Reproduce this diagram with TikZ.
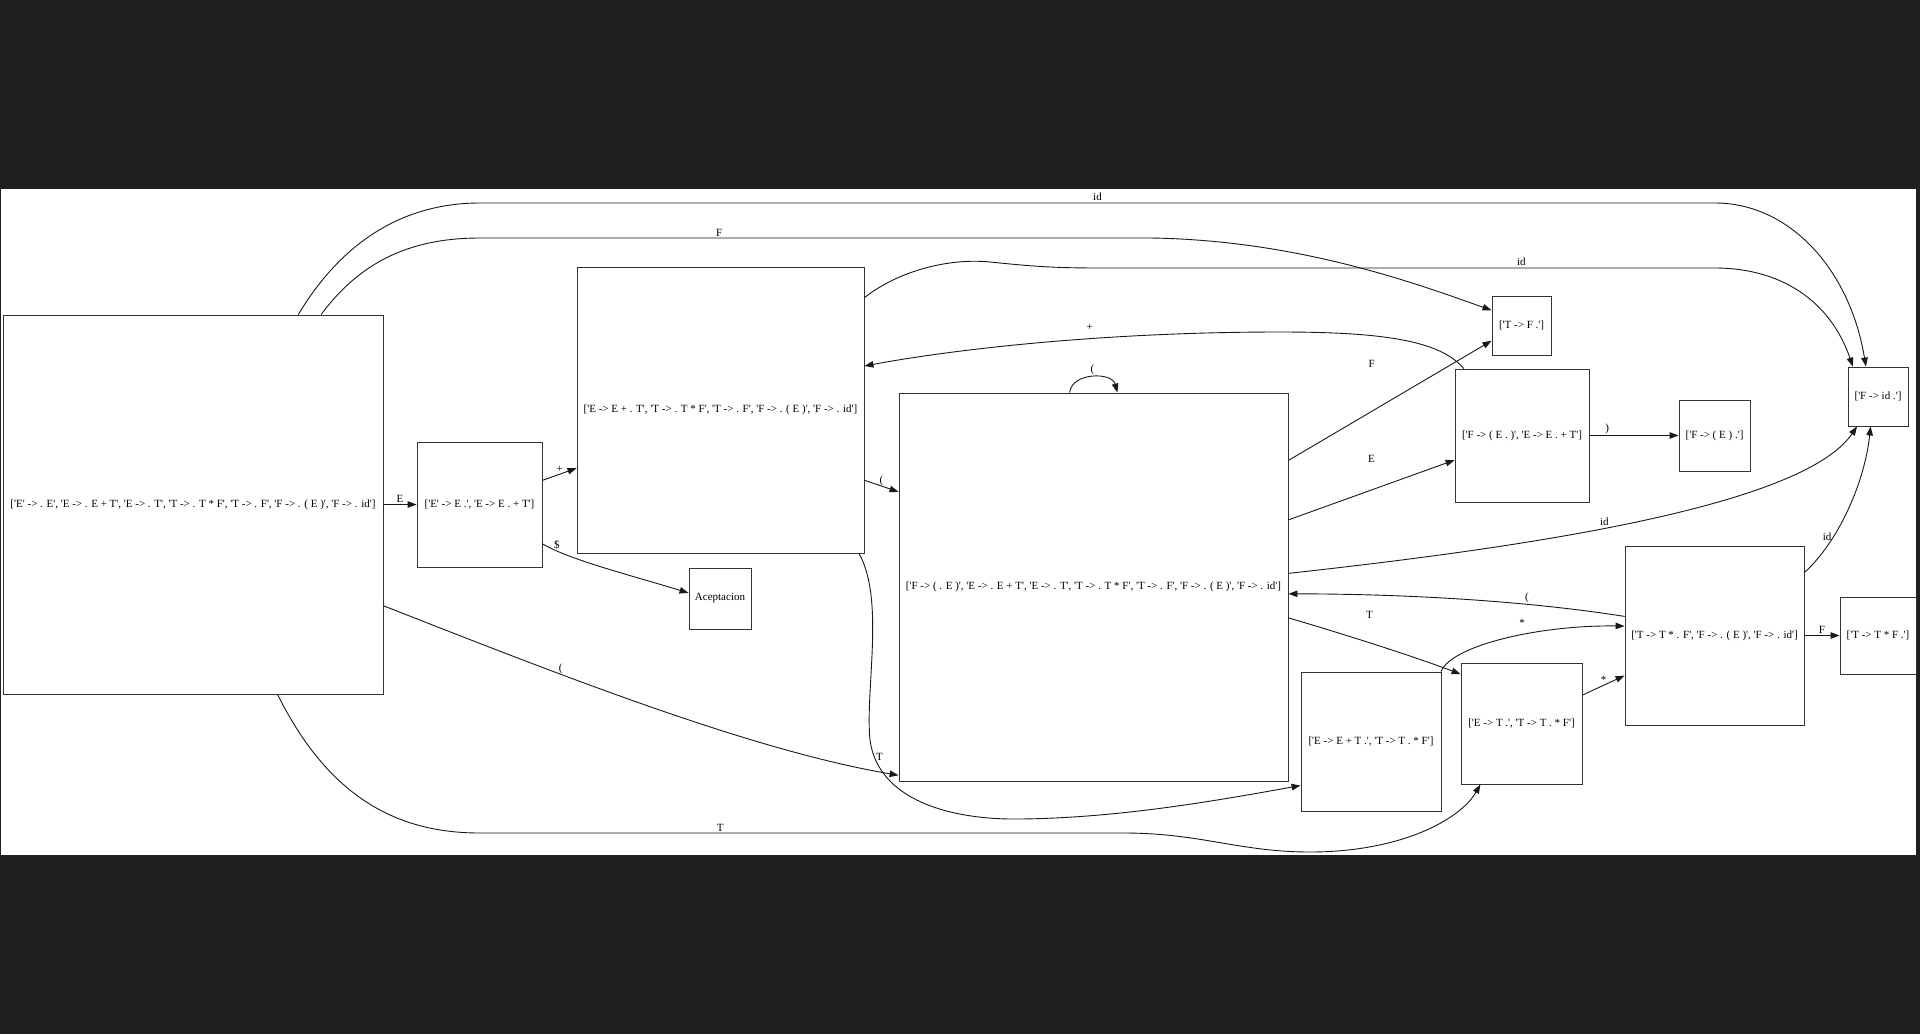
\documentclass[tikz,border=0pt]{standalone}
\usepackage{fontspec}
\setmainfont{Liberation Serif}[Ligatures=TeXOff]
\usetikzlibrary{arrows.meta}
\definecolor{bgdark}{RGB}{31,31,31}

\begin{document}
\begin{tikzpicture}[x=1pt, y=-1pt, >={Triangle[length=9pt, width=6.5pt]}]
  % Define styles
  \tikzstyle{itemset} = [rectangle, draw=black!80, line width=0.9pt, inner sep=1pt, font=\fontsize{11}{13}\selectfont, text centered]
  \tikzstyle{trans} = [->, draw=black!90, line width=0.9pt]
  \tikzstyle{lbl} = [font=\fontsize{11}{13}\selectfont, inner sep=1.5pt]

  % Frame
  \useasboundingbox (0,0) rectangle (1920,1034);
  \fill[bgdark] (0,0) rectangle (1920,1034);
  \fill[white] (1,189) rectangle (1916,855);

  % Initial state
  \node[itemset, minimum width=380pt, minimum height=379pt] (s0) at (193,504.5) {['E' -> . E', 'E -> . E + T', 'E -> . T', 'T -> . T * F', 'T -> . F', 'F -> . ( E )', 'F -> . id']};

  % States after E and +
  \node[itemset, minimum width=125pt, minimum height=125pt] (s1) at (479.5,504.5) {['E' -> E .', 'E -> E . + T']};
  \node[itemset, minimum width=287pt, minimum height=286pt] (s2) at (720.5,410) {['E -> E + . T', 'T -> . T * F', 'T -> . F', 'F -> . ( E )', 'F -> . id']};
  \node[itemset, minimum width=62pt, minimum height=61pt] (acc) at (720,598.5) {Aceptacion};

  % State after (
  \node[itemset, minimum width=389pt, minimum height=388pt] (s3) at (1093.5,587) {['F -> ( . E )', 'E -> . E + T', 'E -> . T', 'T -> . T * F', 'T -> . F', 'F -> . ( E )', 'F -> . id']};

  % Right column
  \node[itemset, minimum width=59pt, minimum height=59pt] (s4) at (1521.5,325.5) {['T -> F .']};
  \node[itemset, minimum width=134pt, minimum height=133pt] (s5) at (1522,435.5) {['F -> ( E . )', 'E -> E . + T']};
  \node[itemset, minimum width=71pt, minimum height=71pt] (s6) at (1714.5,435.5) {['F -> ( E ) .']};
  \node[itemset, minimum width=60pt, minimum height=59pt] (s7) at (1878,396.5) {['F -> id .']};
  \node[itemset, minimum width=140pt, minimum height=139pt] (s8) at (1371,741.5) {['E -> E + T .', 'T -> T . * F']};
  \node[itemset, minimum width=121pt, minimum height=121pt] (s9) at (1521.5,723.5) {['E -> T .', 'T -> T . * F']};
  \node[itemset, minimum width=179pt, minimum height=179pt] (s10) at (1714.5,635.5) {['T -> T * . F', 'F -> . ( E )', 'F -> . id']};
  \node[itemset, minimum width=76pt, minimum height=77pt] (s11) at (1878,635.5) {['T -> T * F .']};

  % Connections - from s0
  \draw[trans] (s0) -- node[lbl, above] (l1) {E} (s1);
  \draw[trans] (s0.332.6) .. controls (560,675) and (750,750) .. node[lbl, pos=0.33, yshift=5pt] (l2) {(} (s3.224.4);
  \draw[trans] (s0.294.4) .. controls (330,800) and (400,833) .. (480,833) -- node[lbl, above, pos=0.373] (l3) {T} (1124,833) .. controls (1200,833) and (1240,852) .. (1310,852) .. controls (1400,852) and (1460,820) .. (s9.236.9);
  \draw[trans] (s0.56.1) .. controls (360,262) and (410,238) .. (480,238) -- node[lbl, above, pos=0.357] (l4) {F} (1150,238) .. controls (1300,240) and (1420,285) .. (s4.153.8);
  \draw[trans] (s0.61.8) .. controls (340,245) and (400,203) .. (480,203) -- node[lbl, above] (l5) {id} (1715,203) .. controls (1790,203) and (1850,270) .. (s7.112.1);

  % Connections - from s1 and s2
  \draw[trans] (s1.21.4) -- node[lbl, above] (l6) {+} (s2.202);
  \draw[trans] (s1.328.4) .. controls (570,560) and (630,575) .. node[lbl, above, pos=0.15] (l7) {\$} (acc.170);
  \draw[trans] (s2.334.3) -- node[lbl, pos=0.5, yshift=5pt] (l8) {(} (s3.154.4);
  \draw[trans] (s2.38.9) .. controls (900,270) and (950,258) .. (990,262) .. controls (1030,266) and (1050,268) .. (1100,268) -- node[lbl, above, pos=0.685] (l9) {id} (1715,268) .. controls (1780,268) and (1830,300) .. (s7.130.3);
  \draw[trans] (s2.314.5) .. controls (885,600) and (865,690) .. (870,740) .. controls (878,800) and (950,820) .. node[lbl, right, pos=0.1] (l10) {T} (1020,819) .. controls (1120,818) and (1220,800) .. (s8.212.4);

  % Connections - from s3
  \draw[trans] (s3.97.2) .. controls (1072,372) and (1112,372) .. node[lbl, above] (l11) {(} (s3.83.1);
  \draw[trans] (s3.33.35) -- node[lbl, pos=0.41, yshift=47pt] (l12) {F} (s4.207.7);
  \draw[trans] (s3.19.5) -- node[lbl, pos=0.5, yshift=31pt] (l13) {E} (s5.200.1);
  \draw[trans] (s3.4.4) .. controls (1500,550) and (1800,510) .. node[lbl, above, pos=0.46] (l14) {id} (s7.235.9);
  \draw[trans] (s3.351.5) .. controls (1340,633) and (1410,655) .. node[lbl, pos=0.47, yshift=28pt] (l15) {T} (s9.141.9);

  % Connections - right part
  \draw[trans] (s5.131.6) .. controls (1440,340) and (1380,332) .. (1280,332) .. controls (1100,332) and (950,350) .. node[lbl, pos=0.38, yshift=11pt] (l16) {+} (s2.17);
  \draw[trans] (s5) -- node[lbl, above, pos=0.2] (l17) {)} (s6);
  \draw[trans] (s8.45.6) .. controls (1452,645) and (1540,625) .. node[lbl, above, pos=0.58, yshift=6pt] (l18) {*} (s10.174.6);
  \draw[trans] (s9.25.2) -- node[lbl, above] (l19) {*} (s10.204.9);
  \draw[trans] (s10.168.3) .. controls (1520,600) and (1400,594) .. node[lbl, above, pos=0.3] (l20) {(} (s3.358.5);
  \draw[trans] (s10) -- node[lbl, above] (l21) {F} (s11);
  \draw[trans] (s10.35.4) .. controls (1840,540) and (1865,480) .. node[lbl, left, pos=0.3] (l22) {id} (s7.256.7);

\end{tikzpicture}
\end{document}
